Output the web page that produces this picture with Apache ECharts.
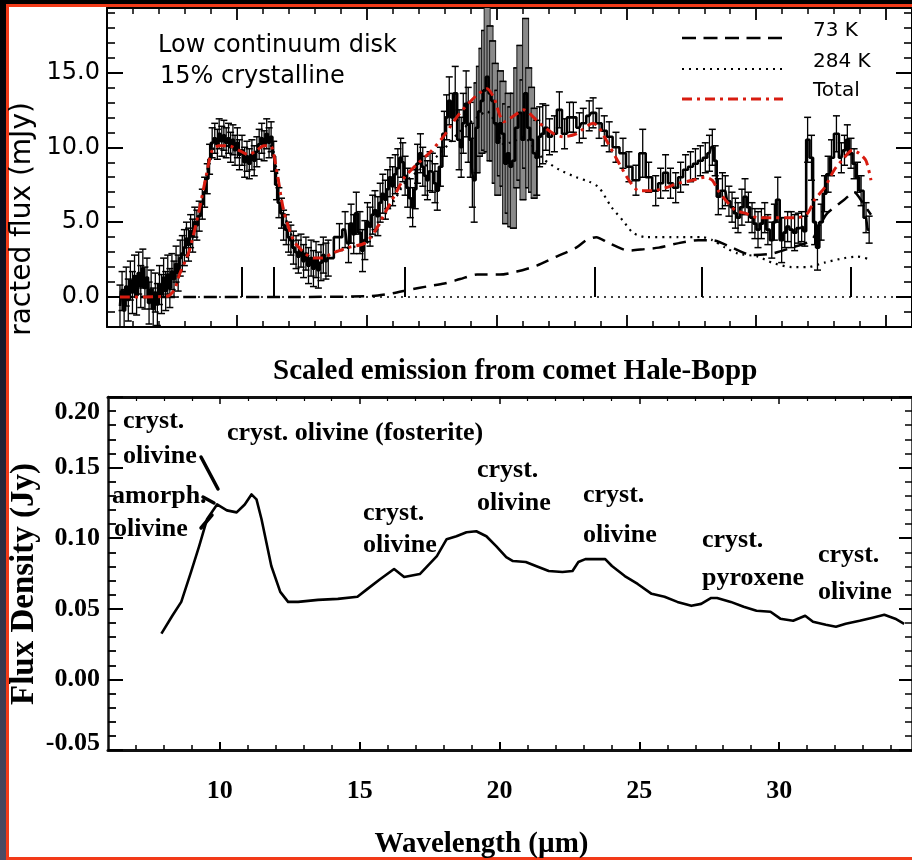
<!DOCTYPE html>
<html><head><meta charset="utf-8">
<script src="https://cdn.jsdelivr.net/npm/echarts@6/dist/echarts.min.js"></script>
<style>html,body{margin:0;padding:0;background:#000}#c{width:912px;height:860px}</style>
</head><body><div id="c"></div>
<script>
// ---------- DATA : top panel (Low continuum disk) ----------
const obsWavelength = [5.50,5.58,5.66,5.74,5.82,5.90,5.98,6.06,6.14,6.22,6.30,6.38,6.46,6.54,6.62,6.70,6.78,6.86,6.94,7.02,7.10,7.18,7.26,7.34,7.42,7.50,7.58,7.66,7.74,7.82,7.90,7.98,8.06,8.14,8.22,8.30,8.38,8.46,
8.55,8.67,8.76,8.86,8.95,9.05,9.15,9.25,9.32,9.42,9.50,9.59,9.68,9.76,9.85,9.93,10.02,10.10,10.20,10.30,10.39,10.48,10.58,10.67,10.77,10.86,10.96,11.05,11.15,11.24,11.32,11.42,11.53,11.62,11.72,11.80,11.90,11.99,12.08,12.18,12.28,12.37,12.47,12.57,12.66,12.76,12.86,12.95,13.05,13.14,13.24,13.33,13.43,13.52,
13.95,14.17,14.30,14.40,14.50,14.60,14.74,14.84,14.93,15.03,15.13,15.23,15.32,15.43,15.52,15.62,15.72,15.81,15.90,16.00,16.10,16.20,16.31,16.39,16.48,16.58,16.68,16.77,16.87,16.96,17.07,17.16,17.25,17.34,17.44,17.53,17.63,17.72,17.84,
17.99,18.08,18.18,18.30,18.41,18.56,18.64,18.72,18.83,18.91,18.99,19.07,19.14,19.25,19.34,19.44,19.54,19.64,19.75,19.85,19.95,20.05,20.15,20.25,20.35,20.45,20.55,20.65,20.78,20.90,21.02,21.12,21.24,21.35,21.45,21.55,21.66,21.78,21.90,
22.04,22.23,22.42,22.62,22.81,22.96,23.19,23.34,23.57,23.72,23.95,24.15,24.34,24.60,24.87,25.10,25.37,25.63,25.86,26.13,26.32,26.51,26.70,26.90,27.09,27.28,27.47,27.66,27.85,28.04,28.20,28.31,28.42,28.54,28.70,28.81,28.95,29.07,29.20,29.30,29.45,29.57,29.70,29.84,29.95,30.07,30.20,30.33,30.45,30.60,30.70,30.83,30.98,31.10,31.21,31.35,31.48,31.62,31.75,31.87,31.98,32.13,32.25,32.36,32.50,32.63,32.77,32.90,33.09,33.28,33.40,33.51,33.65,33.77,33.90,34.04,34.23,34.35];
const obsFlux = [-0.6,0.4,-0.9,0.7,-0.2,1.1,0.3,1.4,0.1,1.6,0.7,1.9,0.6,1.3,-0.4,0.5,-0.8,0.3,-0.5,0.8,0.2,1.3,0.4,1.5,0.6,1.7,1.2,2.2,1.6,2.6,2.9,3.3,3.9,3.5,4.4,4.1,5.0,4.8,
5.4,6.2,7.0,7.9,9.2,10.3,10.6,10.2,10.9,10.4,10.8,10.3,10.6,10.0,10.5,9.8,10.3,9.5,9.8,9.0,9.4,8.9,9.5,9.1,9.7,10.2,10.6,10.1,10.9,10.3,10.7,9.4,7.5,6.3,5.6,4.8,4.5,4.0,3.8,3.3,3.0,2.7,3.1,2.4,2.9,2.1,2.6,1.9,2.5,1.8,2.3,2.8,2.4,2.6,
4.0,4.5,3.6,4.9,4.2,5.6,4.3,3.1,3.8,5.0,4.7,5.5,5.8,5.4,6.3,6.9,6.5,7.2,8.0,7.4,8.2,8.6,9.3,9.0,8.1,7.3,6.6,6.0,7.2,8.9,9.6,8.7,8.1,7.8,8.4,8.3,7.6,7.1,8.7,
10.9,12.0,13.1,12.0,13.6,10.5,10.0,11.6,12.9,11.5,10.5,8.8,7.8,11.3,12.4,13.1,13.8,14.7,13.6,13.1,11.6,10.3,11.6,10.9,8.9,9.6,8.7,9.1,11.3,12.3,10.5,13.6,11.3,10.5,9.6,9.3,10.7,10.9,11.3,
10.7,10.9,12.5,10.9,12.0,12.0,11.3,11.6,12.1,12.3,11.6,11.1,10.7,10.0,9.6,8.7,7.8,9.6,8.0,7.1,7.6,8.3,7.6,7.3,8.0,8.5,8.7,8.9,9.1,9.3,9.6,10.0,9.1,6.7,7.1,7.1,6.4,6.0,5.6,5.3,6.0,6.7,6.0,5.3,4.9,4.5,4.9,5.3,4.5,3.8,5.0,6.5,3.8,4.3,4.7,4.5,4.3,4.6,4.7,4.4,10.5,9.3,5.0,3.3,5.0,6.9,8.2,9.3,10.9,9.3,9.8,10.5,9.6,8.9,8.0,7.1,5.3,4.5];
const obsError = [1.4,1.3,1.4,1.3,1.4,1.3,1.4,1.4,1.3,1.4,1.4,1.3,1.4,1.3,1.4,1.3,1.4,1.3,1.4,1.3,1.3,1.3,1.3,1.3,1.3,1.2,1.2,1.2,1.2,1.2,1.2,1.2,1.1,1.1,1.1,1.1,1.0,1.0,
1.0,1.0,1.0,1.0,1.0,1.0,1.0,1.0,1.0,1.0,1.0,1.0,1.0,1.0,1.0,1.0,1.0,1.0,1.0,1.0,1.0,1.0,1.0,1.0,1.0,1.0,1.0,1.0,1.0,1.0,1.0,1.0,1.0,1.0,1.0,1.0,1.0,1.0,1.0,1.1,1.1,1.1,1.1,1.1,1.1,1.2,1.2,1.2,1.2,1.2,1.2,1.2,1.2,1.2,
0.9,1.2,1.3,1.3,1.3,1.4,1.4,1.4,1.3,1.3,1.3,1.3,1.3,1.3,1.3,1.3,1.3,1.3,1.3,1.3,1.3,1.3,1.3,1.3,1.3,1.3,1.3,1.3,1.3,1.3,1.3,1.3,1.3,1.3,1.3,1.3,1.3,1.3,1.3,
1.5,1.5,1.6,1.6,1.8,2.0,2.0,2.0,2.2,2.5,2.5,2.8,2.8,3.0,3.0,3.5,4.0,5.0,4.5,4.0,4.0,3.5,3.5,3.5,4.0,4.0,4.0,4.5,4.0,4.5,4.0,5.0,4.0,3.5,3.0,2.5,2.0,2.0,1.5,
1.2,1.2,1.2,1.0,1.0,1.0,1.0,1.0,1.0,1.0,1.0,1.0,1.0,1.0,1.0,1.0,1.0,1.6,1.0,1.0,1.0,1.2,1.0,1.0,1.0,1.0,1.0,1.0,1.0,1.0,1.2,1.2,1.0,1.2,1.2,1.0,1.0,1.0,1.0,1.0,1.2,1.2,1.0,1.0,1.0,1.2,1.0,1.0,1.0,1.2,1.2,1.5,1.5,1.0,1.0,1.2,1.2,1.0,1.0,1.0,1.5,1.5,1.5,1.5,1.2,1.2,1.2,1.2,1.2,1.0,1.0,1.0,1.0,1.0,1.0,1.0,1.0,0.9];

const totalWavelength = [5.5,7.3,7.6,7.79,8.17,8.55,8.82,9.05,9.32,9.70,10.08,10.46,10.77,11.04,11.30,11.53,11.80,12.18,12.57,12.95,13.33,13.64,14.29,14.93,15.32,15.70,16.08,16.46,16.96,17.46,17.99,18.55,19.25,19.64,19.90,20.28,20.67,21.05,21.43,21.66,22.20,22.58,23.07,23.72,23.95,24.22,24.60,25.10,25.48,26.02,26.51,27.01,27.54,28.04,28.31,28.54,28.81,29.19,29.57,30.07,30.60,31.10,31.60,31.98,32.25,32.63,33.01,33.39,33.70,33.96,34.23,34.42];
const totalFlux = [0,0.05,0.5,1.5,3.1,5.8,8.1,9.8,10.1,10.1,9.8,9.5,9.8,10.1,10.1,8.5,5.8,3.8,3.0,2.6,2.6,2.9,3.3,3.6,4.4,5.6,6.8,8.0,8.9,9.7,10.8,12.2,13.5,13.9,13.3,11.7,12.1,12.5,12.0,11.6,10.9,10.7,10.9,11.6,11.3,10.5,9.3,7.8,7.1,7.1,7.3,7.6,7.8,8.0,7.8,7.1,6.5,5.8,5.6,5.3,5.3,5.3,5.3,5.6,6.5,7.3,8.5,9.3,9.8,9.6,9.1,7.8];

const k73Wavelength = [5.5,8.55,12.0,15.0,15.43,16.0,16.69,17.3,17.99,18.6,19.25,20.13,20.78,21.55,22.31,23.07,23.46,23.84,24.33,25.10,25.7,26.25,27.01,27.77,28.31,29.07,29.84,30.60,31.37,32.13,32.45,32.74,33.39,33.77,34.10,34.42];
const k73Flux = [0,0,0,0.05,0.1,0.25,0.5,0.7,0.9,1.2,1.5,1.5,1.7,2.1,2.7,3.3,3.8,4.0,3.6,3.1,3.2,3.3,3.6,3.8,3.8,3.3,2.8,2.9,3.3,3.8,4.8,5.6,6.5,7.0,6.3,5.5];

const k284Wavelength = [5.5,7.3,7.6,7.79,8.17,8.55,8.82,9.05,9.32,9.70,10.08,10.46,10.77,11.04,11.30,11.53,11.80,12.18,12.57,12.95,13.33,13.64,14.29,14.93,15.32,15.70,16.08,16.46,16.96,17.46,17.99,18.55,19.25,19.64,19.90,20.28,20.67,21.05,21.43,21.81,22.42,23.07,23.57,23.95,24.43,24.87,25.25,25.75,27.01,27.93,28.31,28.81,29.30,30.07,30.60,31.37,31.98,32.63,33.39,33.89,34.42];
const k284Flux = [0,0.05,0.5,1.5,3.1,5.8,8.1,9.8,10.1,10.1,9.8,9.5,9.8,10.1,10.1,8.5,5.8,3.8,3.0,2.6,2.6,2.9,3.3,3.5,4.3,5.5,6.5,7.6,8.4,9.0,9.9,11.0,12.0,12.4,11.8,10.2,10.4,10.7,10.0,9.2,8.5,8.0,7.7,7.3,6.0,5.1,4.3,4.0,4.0,4.0,3.8,3.3,2.9,2.7,2.3,2.0,2.0,2.3,2.6,2.7,2.5];

const featureWavelength = [10.2, 11.42, 16.46, 23.8, 27.89, 33.66];
const featureHeight = 2.0;

const fluxMajorTicks = [0, 5, 10, 15];
const fluxMinorTicks = [-1,1,2,3,4,6,7,8,9,11,12,13,14,16,17,18,19];
const legendNames = ['73 K', '284 K', 'Total'];

// ---------- DATA : bottom panel (Hale-Bopp) ----------
const hbWavelength = [7.91,8.30,8.62,8.97,9.26,9.54,9.90,10.25,10.60,10.89,11.13,11.31,11.49,11.84,12.16,12.44,12.80,13.51,14.22,14.92,15.28,15.74,16.23,16.59,17.15,17.76,18.11,18.46,18.82,19.17,19.53,19.88,20.24,20.48,20.94,21.30,21.76,22.25,22.61,22.82,23.07,23.78,24.02,24.48,24.94,25.44,25.90,26.36,26.86,27.21,27.57,27.78,28.27,28.73,29.19,29.69,30.04,30.50,30.93,31.21,31.67,32.03,32.38,32.88,33.34,33.76,34.15,34.47];
const hbFlux = [0.0324,0.0451,0.0549,0.0761,0.0944,0.1134,0.1239,0.1197,0.1183,0.1239,0.1310,0.1275,0.1134,0.0803,0.0620,0.0549,0.0549,0.0563,0.0570,0.0585,0.0641,0.0711,0.0782,0.0725,0.0746,0.0873,0.0993,0.1014,0.1042,0.1049,0.1014,0.0944,0.0866,0.0838,0.0831,0.0803,0.0768,0.0761,0.0768,0.0831,0.0852,0.0852,0.0803,0.0732,0.0676,0.0606,0.0585,0.0549,0.0521,0.0535,0.0577,0.0577,0.0549,0.0514,0.0486,0.0479,0.0430,0.0415,0.0451,0.0408,0.0387,0.0373,0.0394,0.0415,0.0437,0.0458,0.0430,0.0394];
const wlMajorTicks = [10, 15, 20, 25, 30];
const wlMinorTicks = [7,8,9,11,12,13,14,16,17,18,19,21,22,23,24,26,27,28,29,31,32,33,34];

// ---------- CHART ----------
const SANS = '"DejaVu Sans", sans-serif';
const SERIF = '"Liberation Serif", "Times New Roman", serif';
const chart = echarts.init(document.getElementById('c'), null, {renderer: 'canvas'});

const zip = (a, b) => a.map((v, i) => [v, b[i]]);
const noLine = {show: false, onZero: false};
const noSplit = {show: false};
const blk = (w) => ({color: '#000', width: w});

function tickAxis(base, values, len, width) {
  return Object.assign({
    type: 'value', axisLine: {show: false, onZero: false}, splitLine: noSplit, axisLabel: {show: false},
    axisTick: {show: true, inside: true, length: len, customValues: values, lineStyle: blk(width)}
  }, base);
}

const topX = {gridIndex: 0, min: 5, max: 36};
const topY = {gridIndex: 0, min: -2, max: 19.3};
const botX = {gridIndex: 1, min: 6, max: 34.75};
const botY = {gridIndex: 1, min: -0.05, max: 0.20};

function errRender(params, api) {
  const x = api.value(0), y = api.value(1), e = api.value(2);
  const p1 = api.coord([x, y + e]), p2 = api.coord([x, y - e]);
  const cw = 3.5, ch = [];
  if (e >= 3) {
    ch.push({type: 'rect', shape: {x: p1[0] - 3, y: p1[1], width: 6, height: p2[1] - p1[1]},
      style: {fill: '#8a8a8a', stroke: '#1a1a1a', lineWidth: 1}});
  } else {
    ch.push({type: 'line', shape: {x1: p1[0], y1: p1[1], x2: p2[0], y2: p2[1]}, style: {stroke: '#000', lineWidth: 1.3}});
  }
  ch.push({type: 'line', shape: {x1: p1[0] - cw, y1: p1[1], x2: p1[0] + cw, y2: p1[1]}, style: {stroke: '#000', lineWidth: 1.5}});
  ch.push({type: 'line', shape: {x1: p2[0] - cw, y1: p2[1], x2: p2[0] + cw, y2: p2[1]}, style: {stroke: '#000', lineWidth: 1.5}});
  return {type: 'group', children: ch};
}

const serifBold = (size) => ({fontFamily: SERIF, fontWeight: 'bold', fontSize: size, color: '#000'});
function annot(text, x, y) {
  return {type: 'text', x: x, y: y, z: 50, style: {text: text, font: 'bold 26px ' + SERIF, fill: '#000', textAlign: 'left', textVerticalAlign: 'middle'}};
}
function legendLine(y, stroke, dash, w) {
  return {type: 'line', z: 50, shape: {x1: 682, y1: y, x2: 783, y2: y}, style: {stroke: stroke, lineWidth: w, lineDash: dash}};
}
function legendText(t, y) {
  return {type: 'text', x: 813, y: y, z: 50, style: {text: t, font: '20px ' + SANS, fill: '#000', textAlign: 'left', textVerticalAlign: 'middle'}};
}
function arrow(x1, y1, x2, y2) {
  return {type: 'line', z: 50, shape: {x1, y1, x2, y2}, style: {stroke: '#000', lineWidth: 3.5, lineCap: 'round'}};
}

const option = {
  animation: false,
  backgroundColor: '#000',
  title: {text: 'Scaled emission from comet Hale-Bopp', left: 273, top: 357, padding: 0,
    textStyle: serifBold(29)},
  grid: [
    {left: 107, top: 8, width: 811, height: 319},
    {left: 108, top: 397, width: 812, height: 355}
  ],
  xAxis: [
    Object.assign({type: 'value', position: 'bottom', interval: 5,
      axisLine: {show: true, onZero: false, lineStyle: blk(2)},
      axisTick: {show: true, inside: true, length: 12, lineStyle: blk(1.8)},
      minorTick: {show: true, splitNumber: 5, length: 6, lineStyle: blk(1.5)},
      axisLabel: {show: false}, splitLine: noSplit}, topX),
    Object.assign({type: 'value', position: 'top', interval: 5,
      axisLine: {show: true, onZero: false, lineStyle: blk(2)},
      axisTick: {show: true, inside: true, length: 12, lineStyle: blk(1.8)},
      minorTick: {show: true, splitNumber: 5, length: 6, lineStyle: blk(1.5)},
      axisLabel: {show: false}, splitLine: noSplit}, topX),
    Object.assign({type: 'value', position: 'bottom',
      axisLine: {show: true, onZero: false, lineStyle: {color: '#111', width: 3}},
      axisTick: {show: true, inside: true, length: 8, customValues: wlMajorTicks, lineStyle: blk(2)},
      axisLabel: {show: true, customValues: wlMajorTicks, margin: 28, fontFamily: SERIF, fontWeight: 'bold', fontSize: 26, color: '#000'},
      splitLine: noSplit,
      name: 'Wavelength (\u00b5m)', nameLocation: 'middle', nameGap: 80,
      nameTextStyle: Object.assign(serifBold(29), {padding: [0, 57, 0, 0]})}, botX),
    tickAxis(Object.assign({position: 'bottom'}, botX), wlMinorTicks, 5, 1.5),
    Object.assign({type: 'value', position: 'top',
      axisLine: {show: true, onZero: false, lineStyle: {color: '#111', width: 3}},
      axisTick: {show: true, inside: true, length: 7, customValues: wlMajorTicks, lineStyle: blk(1.5)},
      axisLabel: {show: false}, splitLine: noSplit}, botX),
    tickAxis(Object.assign({position: 'top'}, botX), wlMinorTicks, 4, 1.2)
  ],
  yAxis: [
    Object.assign({type: 'value', position: 'left',
      axisLine: {show: true, onZero: false, lineStyle: blk(2)},
      axisTick: {show: true, inside: true, length: 16, customValues: fluxMajorTicks, lineStyle: blk(2)},
      axisLabel: {show: true, customValues: fluxMajorTicks, formatter: v => v.toFixed(1), margin: 7,
        fontFamily: SANS, fontSize: 24, color: '#000'},
      splitLine: noSplit}, topY),
    tickAxis(Object.assign({position: 'left'}, topY), fluxMinorTicks, 8, 1.6),
    Object.assign({type: 'value', position: 'right',
      axisLine: {show: true, onZero: false, lineStyle: blk(2)},
      axisTick: {show: true, inside: true, length: 16, customValues: fluxMajorTicks, lineStyle: blk(2)},
      axisLabel: {show: false}, splitLine: noSplit}, topY),
    tickAxis(Object.assign({position: 'right'}, topY), fluxMinorTicks, 8, 1.6),
    Object.assign({type: 'value', position: 'left', interval: 0.05,
      axisLine: {show: true, onZero: false, lineStyle: {color: '#111', width: 2.5}},
      axisTick: {show: true, inside: true, length: 15, lineStyle: blk(2)},
      minorTick: {show: true, splitNumber: 5, length: 8, lineStyle: blk(1.8)},
      axisLabel: {show: true, margin: 8, fontFamily: SERIF, fontWeight: 'bold', fontSize: 26, color: '#000',
        formatter: function (v) {
          const s = v.toFixed(2);
          if (v > 0.199) return '{t|' + s + '}';
          if (v < -0.049) return '{b|' + s + '}';
          return s;
        },
        rich: {
          t: Object.assign(serifBold(26), {padding: [30, 0, 0, 0]}),
          b: Object.assign(serifBold(26), {padding: [0, 0, 14, 0]})
        }},
      splitLine: noSplit}, botY),
    Object.assign({type: 'value', position: 'right', interval: 0.05,
      axisLine: {show: true, onZero: false, lineStyle: {color: '#111', width: 2.5}},
      axisTick: {show: true, inside: true, length: 13, lineStyle: blk(2)},
      minorTick: {show: true, splitNumber: 5, length: 7, lineStyle: blk(1.5)},
      axisLabel: {show: false}, splitLine: noSplit}, botY)
  ],
  graphic: [
    {type: 'rect', z: -100, silent: true, shape: {x: 0, y: 0, width: 912, height: 860},
      style: {fill: new echarts.graphic.LinearGradient(0, 0, 0, 1, [{offset: 0, color: '#000'}, {offset: 0.25, color: '#0c0c1c'}, {offset: 1, color: '#4c4c64'}])}},
    {type: 'rect', z: -99, silent: true, shape: {x: 6, y: 4, width: 906, height: 856}, style: {fill: '#f23a18'}},
    {type: 'rect', z: -98, silent: true, shape: {x: 9, y: 7, width: 903, height: 850}, style: {fill: '#fff'}},
    {type: 'text', x: 158, y: 46, z: 50, style: {text: 'Low continuum disk', font: '24px ' + SANS, fill: '#000', textAlign: 'left', textVerticalAlign: 'middle'}},
    {type: 'text', x: 160, y: 77, z: 50, style: {text: '15% crystalline', font: '24px ' + SANS, fill: '#000', textAlign: 'left', textVerticalAlign: 'middle'}},
    legendLine(38, '#000', [14, 7.5], 2.5),
    legendLine(69, '#000', [2, 5], 2),
    legendLine(99, '#d81c10', [10, 5, 3, 5], 3),
    legendText(legendNames[0], 31),
    legendText(legendNames[1], 62),
    legendText(legendNames[2], 91),
    {type: 'text', x: 23, y: 219, rotation: Math.PI / 2, z: 50,
      style: {text: 'racted flux (mJy)', font: '28px ' + SANS, fill: '#000', textAlign: 'center', textVerticalAlign: 'middle'}},
    {type: 'text', x: 24, y: 584, rotation: Math.PI / 2, z: 50,
      style: {text: 'Flux Density (Jy)', font: 'bold 33px ' + SERIF, fill: '#000', textAlign: 'center', textVerticalAlign: 'middle'}},
    annot('cryst.', 123, 421),
    annot('olivine', 123, 456),
    annot('amorph.', 112, 496),
    annot('olivine', 114, 529),
    annot('cryst. olivine (fosterite)', 227, 433),
    annot('cryst.', 363, 513), annot('olivine', 363, 545),
    annot('cryst.', 477, 470), annot('olivine', 477, 503),
    annot('cryst.', 583, 495), annot('olivine', 583, 535),
    annot('cryst.', 702, 540), annot('pyroxene', 702, 578),
    annot('cryst.', 818, 555), annot('olivine', 818, 592),
    arrow(201, 457, 218, 489),
    arrow(203, 497, 214, 503),
    arrow(201, 528, 212, 515)
  ],
  series: [
    {type: 'custom', name: 'error', xAxisIndex: 0, yAxisIndex: 0, clip: true, z: 2,
      renderItem: errRender, data: obsWavelength.map((w, i) => [w, obsFlux[i], obsError[i]])},
    {type: 'line', name: 'observed', xAxisIndex: 0, yAxisIndex: 0, step: 'middle', symbol: 'none', z: 3,
      lineStyle: {color: '#000', width: 2.6}, data: zip(obsWavelength, obsFlux)},
    {type: 'line', name: legendNames[0], xAxisIndex: 0, yAxisIndex: 0, symbol: 'none', smooth: 0.25, z: 4,
      lineStyle: {color: '#000', width: 2.5, type: [13, 8]}, data: zip(k73Wavelength, k73Flux),
      markLine: {silent: true, symbol: ['none', 'none'], label: {show: false},
        lineStyle: {color: '#000', width: 2, type: 'solid'},
        data: featureWavelength.map(w => [{coord: [w, 0]}, {coord: [w, featureHeight]}])}},
    {type: 'line', name: legendNames[1], xAxisIndex: 0, yAxisIndex: 0, symbol: 'none', smooth: 0.25, z: 4,
      lineStyle: {color: '#000', width: 2.2, type: [2, 5]}, data: zip(k284Wavelength, k284Flux),
      markLine: {silent: true, symbol: ['none', 'none'], label: {show: false},
        lineStyle: {color: '#000', width: 1.6, type: [2, 5]}, data: [{yAxis: 0}]}},
    {type: 'line', name: legendNames[2], xAxisIndex: 0, yAxisIndex: 0, symbol: 'none', smooth: 0.25, z: 6,
      lineStyle: {color: '#d81c10', width: 3, type: [10, 5, 3, 5]}, data: zip(totalWavelength, totalFlux)},
    {type: 'line', name: 'Hale-Bopp', xAxisIndex: 2, yAxisIndex: 4, symbol: 'none', z: 5,
      lineStyle: {color: '#000', width: 2.6, join: 'round'}, data: zip(hbWavelength, hbFlux)}
  ]
};
chart.setOption(option);
</script></body></html>
